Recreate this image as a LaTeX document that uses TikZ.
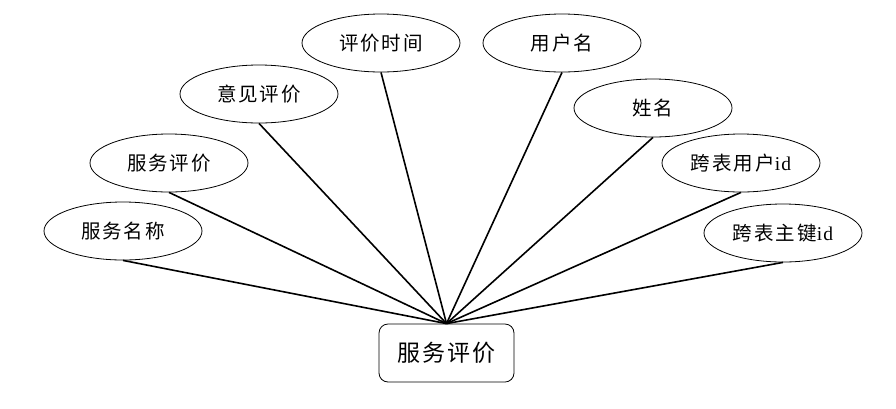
\documentclass[tikz,border=0pt]{standalone}
\usepackage{fontspec}
\setmainfont{Noto Sans CJK SC}[LetterSpace=10]
\newfontfamily\lat{Liberation Serif}[LetterSpace=6]
\usetikzlibrary{shapes.geometric}
\begin{document}
\begin{tikzpicture}[x=1pt,y=-1pt,
  attr/.style={ellipse,draw,line width=0.8pt,minimum width=158pt,minimum height=58pt,inner sep=0pt,font=\fontsize{19.5}{21}\selectfont},
  ent/.style={rectangle,rounded corners=9pt,draw,line width=0.8pt,minimum width=135pt,minimum height=58pt,inner sep=0pt,font=\fontsize{23}{25}\selectfont},
  link/.style={line width=1.6pt}]
\useasboundingbox (0,0) rectangle (896,408);
\node[ent] (m) at (446.5,353) {服务评价};
\node[attr] (e1) at (123,231) {服务名称};
\node[attr] (e2) at (169,163) {服务评价};
\node[attr] (e3) at (259,94) {意见评价};
\node[attr] (e4) at (381,43) {评价时间};
\node[attr] (e5) at (562,43) {用户名};
\node[attr] (e6) at (653,108) {姓名};
\node[attr] (e7) at (741,163) {跨表用户{\lat id}};
\node[attr] (e8) at (783,233) {跨表主键{\lat id}};
\foreach \e in {e1,e2,e3,e4,e5,e6,e7,e8}
  \draw[link] (\e.south) -- (m.north);
\end{tikzpicture}
\end{document}
